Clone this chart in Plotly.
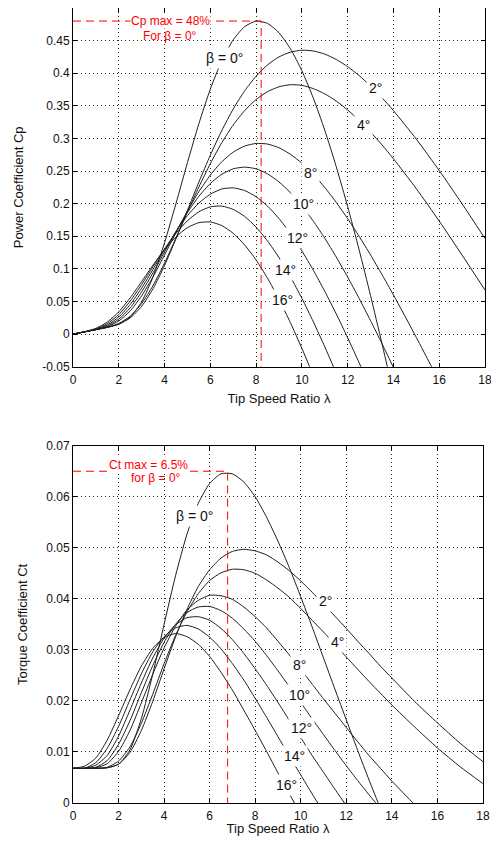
import plotly.graph_objects as go

# ---------------- data ----------------
lam = [0, 0.5, 1, 1.5, 2, 2.5, 3, 3.5, 4, 4.5, 5, 5.5, 6, 6.5, 7, 7.5, 8, 8.5,
       9, 9.5, 10, 10.5, 11, 11.5, 12, 12.5, 13, 13.5, 14, 15, 16, 17, 18]

betas = [0, 2, 4, 8, 10, 12, 14, 16]

N = None
cp_b0 = [0, 0.0034, 0.0068, 0.0103, 0.0151, 0.0261, 0.0495, 0.0882, 0.1401, 0.2003, 0.2629, 0.3227,
         0.3757, 0.4191, 0.4512, 0.4715, 0.4799, 0.4764, 0.4620, 0.4375, 0.4038, 0.3618, 0.3125,
         0.2568, 0.1954, 0.1293, 0.0590, -0.0147, -0.0912, N, N, N, N]
cp_b2 = [0, 0.0034, 0.0068, 0.0103, 0.0152, 0.0248, 0.0426, 0.0698, 0.1052, 0.1462, 0.1897, 0.2332,
         0.2744, 0.3121, 0.3452, 0.3730, 0.3955, 0.4128, 0.4250, 0.4323, 0.4353, 0.4341, 0.4293,
         0.4211, 0.4101, 0.3964, 0.3803, 0.3623, 0.3427, 0.2989, 0.2508, 0.1997, 0.1466]
cp_b4 = [0, 0.0034, 0.0068, 0.0105, 0.0163, 0.0275, 0.0469, 0.0746, 0.1090, 0.1474, 0.1871, 0.2256,
         0.2615, 0.2934, 0.3206, 0.3427, 0.3597, 0.3718, 0.3792, 0.3824, 0.3813, 0.3764, 0.3684,
         0.3573, 0.3437, 0.3277, 0.3098, 0.2901, 0.2689, 0.2229, 0.1733, 0.1211, 0.0675]
cp_b8 = [0, 0.0034, 0.0069, 0.0115, 0.0201, 0.0355, 0.0587, 0.0881, 0.1214, 0.1557, 0.1888, 0.2185,
         0.2439, 0.2642, 0.2790, 0.2883, 0.2923, 0.2914, 0.2857, 0.2757, 0.2621, 0.2449, 0.2248,
         0.2020, 0.1770, 0.1499, 0.1213, 0.0912, 0.0601, -0.0051, -0.0727, N, N]
cp_b10 = [0, 0.0034, 0.0070, 0.0125, 0.0229, 0.0403, 0.0648, 0.0942, 0.1261, 0.1576, 0.1865, 0.2113,
          0.2310, 0.2451, 0.2534, 0.2560, 0.2534, 0.2457, 0.2333, 0.2169, 0.1967, 0.1732, 0.1470,
          0.1182, 0.0874, 0.0548, 0.0206, -0.0147, -0.0511, -0.1259, N, N, N]
cp_b12 = [0, 0.0034, 0.0074, 0.0140, 0.0262, 0.0454, 0.0706, 0.0994, 0.1292, 0.1572, 0.1816, 0.2009,
          0.2145, 0.2225, 0.2242, 0.2201, 0.2106, 0.1962, 0.1772, 0.1541, 0.1276, 0.0979, 0.0655,
          0.0310, -0.0057, -0.0439, -0.0834, N, N, N, N, N, N]
cp_b14 = [0, 0.0034, 0.0079, 0.0160, 0.0300, 0.0506, 0.0760, 0.1036, 0.1305, 0.1545, 0.1739, 0.1876,
          0.1951, 0.1963, 0.1912, 0.1804, 0.1640, 0.1428, 0.1172, 0.0876, 0.0548, 0.0189, -0.0195,
          -0.0599, N, N, N, N, N, N, N, N, N]
cp_b16 = [0, 0.0036, 0.0088, 0.0184, 0.0342, 0.0556, 0.0805, 0.1061, 0.1297, 0.1492, 0.1632, 0.1709,
          0.1719, 0.1664, 0.1545, 0.1367, 0.1136, 0.0856, 0.0533, 0.0174, -0.0219, -0.0639,
          N, N, N, N, N, N, N, N, N, N, N]

ct_b0 = [0.0068, 0.0068, 0.0068, 0.0069, 0.0076, 0.0104, 0.0165, 0.0252, 0.0350, 0.0445, 0.0526,
         0.0587, 0.0626, 0.0645, 0.0645, 0.0629, 0.0600, 0.0560, 0.0513, 0.0461, 0.0404, 0.0345,
         0.0284, 0.0223, 0.0163, 0.0103, 0.0045, -0.0011, -0.0065, N, N, N, N]
ct_b2 = [0.0068, 0.0068, 0.0068, 0.0069, 0.0076, 0.0099, 0.0142, 0.0199, 0.0263, 0.0325, 0.0379,
         0.0424, 0.0457, 0.0480, 0.0493, 0.0497, 0.0494, 0.0486, 0.0472, 0.0455, 0.0435, 0.0413,
         0.0390, 0.0366, 0.0342, 0.0317, 0.0293, 0.0268, 0.0245, 0.0199, 0.0157, 0.0117, 0.0081]
ct_b4 = [0.0068, 0.0068, 0.0068, 0.0070, 0.0082, 0.0110, 0.0156, 0.0213, 0.0273, 0.0328, 0.0374,
         0.0410, 0.0436, 0.0451, 0.0458, 0.0457, 0.0450, 0.0437, 0.0421, 0.0403, 0.0381, 0.0358,
         0.0335, 0.0311, 0.0286, 0.0262, 0.0238, 0.0215, 0.0192, 0.0149, 0.0108, 0.0071, 0.0038]
ct_b8 = [0.0068, 0.0068, 0.0069, 0.0077, 0.0101, 0.0142, 0.0196, 0.0252, 0.0304, 0.0346, 0.0378,
         0.0397, 0.0407, 0.0406, 0.0399, 0.0384, 0.0365, 0.0343, 0.0317, 0.0290, 0.0262, 0.0233,
         0.0204, 0.0176, 0.0148, 0.0120, 0.0093, 0.0068, 0.0043, -0.0003, -0.0045, N, N]
ct_b10 = [0.0068, 0.0068, 0.0070, 0.0083, 0.0115, 0.0161, 0.0216, 0.0269, 0.0315, 0.0350, 0.0373,
          0.0384, 0.0385, 0.0377, 0.0362, 0.0341, 0.0317, 0.0289, 0.0259, 0.0228, 0.0197, 0.0165,
          0.0134, 0.0103, 0.0073, 0.0044, 0.0016, -0.0011, -0.0037, N, N, N, N]
ct_b12 = [0.0068, 0.0068, 0.0074, 0.0093, 0.0131, 0.0182, 0.0235, 0.0284, 0.0323, 0.0349, 0.0363,
          0.0365, 0.0358, 0.0342, 0.0320, 0.0293, 0.0263, 0.0231, 0.0197, 0.0162, 0.0128, 0.0093,
          0.0060, 0.0027, -0.0005, -0.0035, N, N, N, N, N, N, N]
ct_b14 = [0.0068, 0.0068, 0.0079, 0.0107, 0.0150, 0.0202, 0.0253, 0.0296, 0.0326, 0.0343, 0.0348,
          0.0341, 0.0325, 0.0302, 0.0273, 0.0241, 0.0205, 0.0168, 0.0130, 0.0092, 0.0055, 0.0018,
          -0.0018, -0.0052, N, N, N, N, N, N, N, N, N]
ct_b16 = [0.0068, 0.0072, 0.0088, 0.0123, 0.0171, 0.0222, 0.0268, 0.0303, 0.0324, 0.0332, 0.0326,
          0.0311, 0.0287, 0.0256, 0.0221, 0.0182, 0.0142, 0.0101, 0.0059, 0.0018, -0.0022, -0.0061,
          N, N, N, N, N, N, N, N, N, N, N]

cp_series = [cp_b0, cp_b2, cp_b4, cp_b8, cp_b10, cp_b12, cp_b14, cp_b16]
ct_series = [ct_b0, ct_b2, ct_b4, ct_b8, ct_b10, ct_b12, ct_b14, ct_b16]

label_text = ["β = 0°", "2°", "4°", "8°", "10°", "12°", "14°", "16°"]
cp_label_x = [6.64, 13.22, 12.67, 10.36, 10.07, 9.79, 9.29, 9.15]
cp_label_y = [0.423, 0.377, 0.321, 0.247, 0.199, 0.148, 0.099, 0.053]
ct_label_x = [5.35, 11.10, 11.63, 9.95, 9.95, 10.02, 9.73, 9.37]
ct_label_y = [0.0562, 0.0395, 0.0316, 0.0270, 0.0212, 0.0146, 0.0093, 0.0035]

x_ticks = [0, 2, 4, 6, 8, 10, 12, 14, 16, 18]
cp_ticks = [-0.05, 0, 0.05, 0.1, 0.15, 0.2, 0.25, 0.3, 0.35, 0.4, 0.45]
cp_tick_text = ["-0.05", "0", "0.05", "0.1", "0.15", "0.2", "0.25", "0.3", "0.35", "0.4", "0.45"]
ct_ticks = [0, 0.01, 0.02, 0.03, 0.04, 0.05, 0.06, 0.07]
ct_tick_text = ["0", "0.01", "0.02", "0.03", "0.04", "0.05", "0.06", "0.07"]

cp_range = [-0.05, 0.5]
ct_range = [0, 0.07]
x_range = [0, 18]

cp_max, cp_max_lam = 0.48, 8.22
ct_max, ct_max_lam = 0.065, 6.79

# ---------------- figure ----------------
FONT = "Liberation Sans, Arial, Helvetica, sans-serif"
fig = go.Figure()

for cp in cp_series:
    fig.add_trace(go.Scatter(x=lam, y=cp, mode="lines", xaxis="x", yaxis="y",
                             line=dict(color="#1e1e1e", width=1, shape="spline", smoothing=0.6),
                             hoverinfo="skip", showlegend=False))
for ct in ct_series:
    fig.add_trace(go.Scatter(x=lam, y=ct, mode="lines", xaxis="x2", yaxis="y2",
                             line=dict(color="#1e1e1e", width=1, shape="spline", smoothing=0.6),
                             hoverinfo="skip", showlegend=False))

red_dash = dict(color="#ff0000", width=1, dash="8px,5px")
fig.add_trace(go.Scatter(x=[x_range[0], cp_max_lam, cp_max_lam], y=[cp_max, cp_max, cp_range[0]],
                         mode="lines", line=red_dash, xaxis="x", yaxis="y",
                         hoverinfo="skip", showlegend=False))
fig.add_trace(go.Scatter(x=[x_range[0], ct_max_lam, ct_max_lam], y=[ct_max, ct_max, ct_range[0]],
                         mode="lines", line=red_dash, xaxis="x2", yaxis="y2",
                         hoverinfo="skip", showlegend=False))

annotations = []
for t, x, y in zip(label_text, cp_label_x, cp_label_y):
    annotations.append(dict(x=x, y=y, xref="x", yref="y", text=t, showarrow=False,
                            font=dict(family=FONT, size=14, color="#111"),
                            bgcolor="white", borderpad=2))
for t, x, y in zip(label_text, ct_label_x, ct_label_y):
    annotations.append(dict(x=x, y=y, xref="x2", yref="y2", text=t, showarrow=False,
                            font=dict(family=FONT, size=14, color="#111"),
                            bgcolor="white", borderpad=2))

annotations += [
    dict(x=4.24, y=0.4805, xref="x", yref="y", text="Cp max = 48%", showarrow=False,
         font=dict(family=FONT, size=12, color="#ff0000"), bgcolor="white", borderpad=0),
    dict(x=4.24, y=0.4575, xref="x", yref="y", text="For β = 0°", showarrow=False,
         font=dict(family=FONT, size=12, color="#ff0000")),
    dict(x=3.33, y=0.0663, xref="x2", yref="y2", text="Ct max = 6.5%", showarrow=False,
         font=dict(family=FONT, size=12, color="#ff0000"), bgcolor="white", borderpad=1),
    dict(x=3.64, y=0.0636, xref="x2", yref="y2", text="for β = 0°", showarrow=False,
         font=dict(family=FONT, size=12, color="#ff0000")),
]

axis_common = dict(
    showline=True, linecolor="black", linewidth=1, mirror="ticks",
    ticks="inside", ticklen=4, tickcolor="black", tickwidth=1,
    showgrid=True, gridcolor="#222", gridwidth=1, griddash="1px,3px",
    zeroline=False, tickfont=dict(family=FONT, size=12, color="#111"),
    automargin=False, ticklabeloverflow="allow",
)

# the page body adds an 8 px margin on every side; the figure fits inside it
fig.update_layout(
    width=483, height=828,
    margin=dict(l=65, r=6, t=0, b=33),
    paper_bgcolor="white", plot_bgcolor="white",
    font=dict(family=FONT, size=12, color="#111"),
    xaxis=dict(domain=[0, 1], range=x_range, tickvals=x_ticks, anchor="y",
               ticklabelstandoff=2,
               title=dict(text="Tip Speed Ratio λ", font=dict(family=FONT, size=13), standoff=7),
               **axis_common),
    yaxis=dict(domain=[0.5488, 1.0], range=cp_range, tickvals=cp_ticks, ticktext=cp_tick_text,
               anchor="x",
               title=dict(text="Power Coefficient Cp", font=dict(family=FONT, size=13), standoff=15),
               **axis_common),
    xaxis2=dict(domain=[0, 0.995], range=x_range, tickvals=x_ticks, anchor="y2",
                ticklabelstandoff=2,
                title=dict(text="Tip Speed Ratio λ", font=dict(family=FONT, size=13), standoff=7),
                **axis_common),
    yaxis2=dict(domain=[0, 0.4494], range=ct_range, tickvals=ct_ticks, ticktext=ct_tick_text,
                anchor="x2",
                title=dict(text="Torque Coefficient Ct", font=dict(family=FONT, size=13), standoff=15),
                **axis_common),
    annotations=annotations,
)

fig.write_html("out.html")
